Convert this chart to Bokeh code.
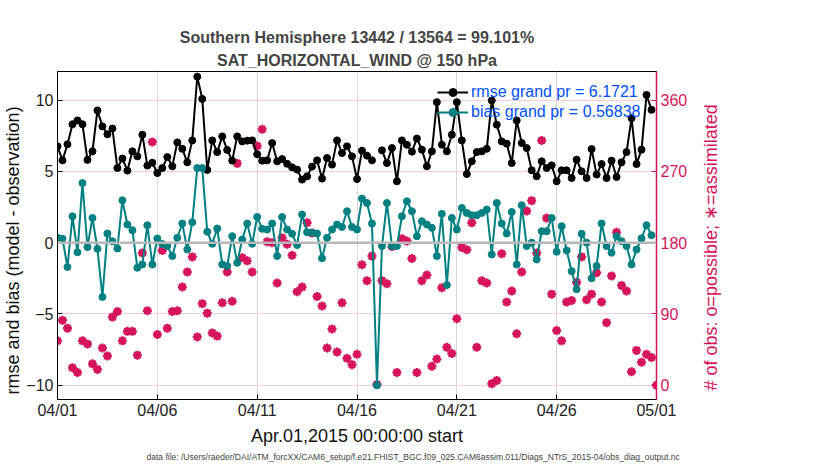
import math
from bokeh.plotting import figure
from bokeh.layouts import row
from bokeh.models import Range1d, LinearAxis, FixedTicker, Title, Legend, LegendItem, Span, ColumnDataSource
from bokeh.embed import file_html
from bokeh.resources import INLINE

NaN = float("nan")

# time in days since 2015-04-01 00:00, 6-hourly bins
times = [i * 0.25 for i in range(121)]

tick_days = [0, 5, 10, 15, 20, 25, 30]
tick_labels = ["04/01", "04/06", "04/11", "04/16", "04/21", "04/26", "05/01"]

rmse = [6.75, 5.77, 6.9, 8.3, 8.57, 8.3, 5.8, 6.4, 9.27, 8.15,
        7.6, 8.0, 5.23, 5.9, 5.05, 6.4, 6.05, 7.57, 5.4, 5.6,
        4.88, 5.23, 6.0, 5.35, 7.03, 6.58, 5.63, 7.17, 11.64, 10.08,
        5.1, 7.17, 6.35, 7.45, 6.5, 5.75, 7.45, 7.1, 7.15, 7.17,
        6.2, 5.75, 5.77, 6.98, 5.7, 5.86, 5.53, 5.28, 5.12, 4.42,
        4.65, 5.33, 5.77, 4.49, 5.93, 5.47, 7.17, 6.28, 6.75, 6.05,
        4.46, 6.45, 6.1, 5.77, NaN, 6.47, 5.58, 6.63, 4.3, 7.17,
        6.86, 6.38, 7.3, 6.52, 5.35, 6.4, 9.85, 6.87, 6.4, 7.57,
        9.85, 7.17, 4.81, 5.7, 6.35, 6.4, 6.58, 9.97, 8.27, 7.1,
        6.94, 5.58, 8.57, 6.98, 6.63, 5.07, 4.65, 5.7, 5.23, 5.42,
        4.3, 5.07, 5.07, 4.53, 5.82, 5.0, 4.53, 6.56, 4.77, 5.51,
        4.53, 5.75, 4.6, 5.63, 6.35, 8.73, 5.51, 6.52, 10.36, 9.31,
        NaN]

bias = [0.34, 0.27, -1.71, 1.85, -0.68, 4.18, -0.31, 1.73, -0.43, -3.81,
        0.64, 0.1, -0.41, 2.97, 1.27, 0.87, -1.76, -1.53, 1.22, -1.53,
        0.29, -0.1, -0.24, -0.94, 0.34, 1.34, -0.48, 1.43, 5.23, 5.23,
        0.76, -0.08, 0.99, -1.53, -1.64, 0.45, -1.41, 0.22, 1.34, -0.08,
        1.8, 0.97, 0.92, 1.34, -0.94, 1.8, 0.92, 0.62, -0.17, 1.97,
        0.73, 0.7, 0.64, -1.1, 0.34, 0.92, 1.27, 1.1, 2.2, 1.1,
        0.92, 3.09, 2.78, 1.34, -10.0, -0.24, 2.78, -0.24, -0.24, 1.85,
        2.9, 2.2, 0.45, 1.5, 1.27, 1.04, -0.94, 2.02, -2.97, 1.73,
        0.92, 2.43, 2.08, 1.92, 1.92, 2.08, 2.32, -0.83, 2.78, 1.34,
        0.64, 2.15, -1.53, 2.62, -0.24, 0.0, -1.18, 0.8, 0.8, 1.73,
        -0.64, 1.15, -0.55, -2.0, -3.27, 0.62, 0.0, -2.5, -1.64, 1.34,
        -0.24, -0.71, 0.45, 0.1, -0.24, -1.53, -0.48, 0.3, 1.22, 0.52,
        NaN]

nobs = [56, 82, 72, 22, 16, 56, 52, 27, 20, 47,
        37, 86, 93, 56, 68, 68, 38, 167, 94, 307,
        64, 170, 72, 93, 94, 124, 143, 162, 61, 103,
        91, 66, 62, 104, 143, 106, 280, 161, 157, 143,
        302, 323, 181, 180, 129, 186, 178, 164, 118, 124,
        205, 192, 112, 100, 47, 71, 42, 104, 34, 26,
        39, 152, 132, 163, 1, 132, 128, 175, 16, 185,
        182, 160, 16, 132, 139, 24, 33, 123, 48, 40,
        84, 174, 171, 205, 48, 132, 129, 2, 6, 166,
        105, 119, 65, 143, 220, 233, 167, 309, 211, 115,
        69, 56, 105, 107, 130, 162, 108, 115, 142, 105,
        79, 138, 193, 126, 119, 17, 44, 29, 39, 35,
        0]

title1 = "Southern Hemisphere 13442 / 13564 = 99.101%"
title2 = "SAT_HORIZONTAL_WIND @ 150 hPa"
rmse_label = "rmse grand pr = 6.1721"
bias_label = "bias grand pr = 0.56838"
xlabel = "Apr.01,2015 00:00:00 start"
ylabel = "rmse and bias (model - observation)"
y2label = "# of obs: o=possible; \u2217=assimilated"
note = "data file: /Users/raeder/DAI/ATM_forcXX/CAM6_setup/f.e21.FHIST_BGC.f09_025.CAM6assim.011/Diags_NTrS_2015-04/obs_diag_output.nc"

FONT = "Liberation Sans"
MAG = "#d6145c"
TEAL = "#008080"
BLUE = "#0050ff"

src = ColumnDataSource(dict(t=times, rmse=rmse, bias=bias, nobs=nobs))

p = figure(frame_width=599, frame_height=328, output_backend="svg", toolbar_location=None,
           x_range=Range1d(0, 30), y_range=Range1d(-11, 12),
           min_border_left=50, min_border_right=40, min_border_top=71, min_border_bottom=63)
p.extra_y_ranges = {"obs": Range1d(-18, 396)}
p.background_fill_color = "white"
p.border_fill_color = "white"
p.outline_line_color = "black"
p.outline_line_width = 1

# grids
p.xgrid.ticker = FixedTicker(ticks=tick_days)
p.xgrid.grid_line_color = "#d6d6d6"
p.xgrid.grid_line_width = 1
p.ygrid.ticker = FixedTicker(ticks=[-10, -5, 0, 5, 10])
p.ygrid.grid_line_color = "#f8cddd"
p.ygrid.grid_line_width = 1

p.add_layout(Span(location=0, dimension="width", line_color="#b8b8b8", line_width=2.5))

# axes
xa = p.xaxis[0]
xa.ticker = FixedTicker(ticks=tick_days)
xa.major_label_overrides = {d: l for d, l in zip(tick_days, tick_labels)}
xa.axis_label = xlabel
ya = p.yaxis[0]
ya.ticker = FixedTicker(ticks=[-10, -5, 0, 5, 10])

ra = LinearAxis(y_range_name="obs", ticker=FixedTicker(ticks=[0, 90, 180, 270, 360]))
p.add_layout(ra, "right")

for ax in [xa, ya, ra]:
    ax.major_tick_in = 5
    ax.major_tick_out = 0
    ax.minor_tick_line_color = None
    ax.major_label_text_font = FONT
    ax.major_label_text_font_size = "16px"
    ax.axis_label_text_font = FONT
    ax.axis_label_text_font_size = "18px"
    ax.axis_label_text_font_style = "normal"
    ax.major_label_standoff = 4
    ax.axis_label_standoff = 4
xa.major_label_standoff = 2
xa.axis_label_standoff = 4
for ax in [xa, ya]:
    ax.axis_line_color = "black"
    ax.major_tick_line_color = "black"
    ax.major_label_text_color = "#222222"
    ax.axis_label_text_color = "#111111"
ra.axis_line_color = MAG
ra.axis_line_width = 1.5
ra.major_tick_line_color = MAG
ra.major_label_text_color = MAG

# left axis label as a title on the left (reads bottom-to-top), starting near the frame bottom
p.add_layout(Title(text=ylabel, align="left", text_font=FONT, text_font_size="18px",
                   text_font_style="normal", text_color="#111111", offset=5, standoff=1), "left")

# obs counts (right axis)
p.scatter("t", "nobs", source=src, y_range_name="obs", marker="circle", size=6,
          fill_color=None, line_color=MAG, line_width=1.2)
p.scatter("t", "nobs", source=src, y_range_name="obs", marker="asterisk", size=9,
          line_color=MAG, line_width=2.4)

# rmse and bias
l1 = p.line("t", "rmse", source=src, line_color="black", line_width=2)
c1 = p.scatter("t", "rmse", source=src, marker="circle", size=7, fill_color="black", line_color="black")
l2 = p.line("t", "bias", source=src, line_color=TEAL, line_width=2)
c2 = p.scatter("t", "bias", source=src, marker="circle", size=7, fill_color=TEAL, line_color=TEAL)

legend = Legend(items=[LegendItem(label=rmse_label, renderers=[l1, c1]),
                       LegendItem(label=bias_label, renderers=[l2, c2])],
                location=(374, 271))
legend.background_fill_alpha = 0
legend.border_line_alpha = 0
legend.label_text_font = FONT
legend.label_text_font_size = "16px"
legend.label_text_color = BLUE
legend.glyph_width = 31
legend.glyph_height = 20
legend.label_height = 20
legend.label_standoff = 3
legend.spacing = 0
legend.padding = 6
legend.margin = 0
p.add_layout(legend, "center")

p.add_layout(Title(text=title2, align="center", text_font=FONT, text_font_size="16px",
                   text_font_style="bold", standoff=6), "above")
p.add_layout(Title(text=title1, align="center", text_font=FONT, text_font_size="16px",
                   text_font_style="bold", standoff=1), "above")
p.add_layout(Title(text=note, align="left", text_font=FONT, text_font_size="8.5px",
                   text_font_style="normal", offset=89, standoff=3), "below")

# narrow companion figure carrying the right-axis label (left title reads bottom-to-top)
p2 = figure(frame_width=1, frame_height=328, output_backend="svg", toolbar_location=None,
            x_range=Range1d(0, 1), y_range=Range1d(0, 1),
            x_axis_location=None, y_axis_location=None,
            min_border_left=15, min_border_right=2, min_border_top=71, min_border_bottom=63)
p2.outline_line_color = None
p2.background_fill_color = None
p2.border_fill_color = None
p2.xgrid.visible = False
p2.ygrid.visible = False
p2.add_layout(Title(text=y2label, align="left", text_font=FONT, text_font_size="18px",
                    text_font_style="normal", text_color=MAG, offset=9, standoff=4), "left")

layout = row(p, p2)

open("out.html", "w").write(file_html(layout, INLINE))
